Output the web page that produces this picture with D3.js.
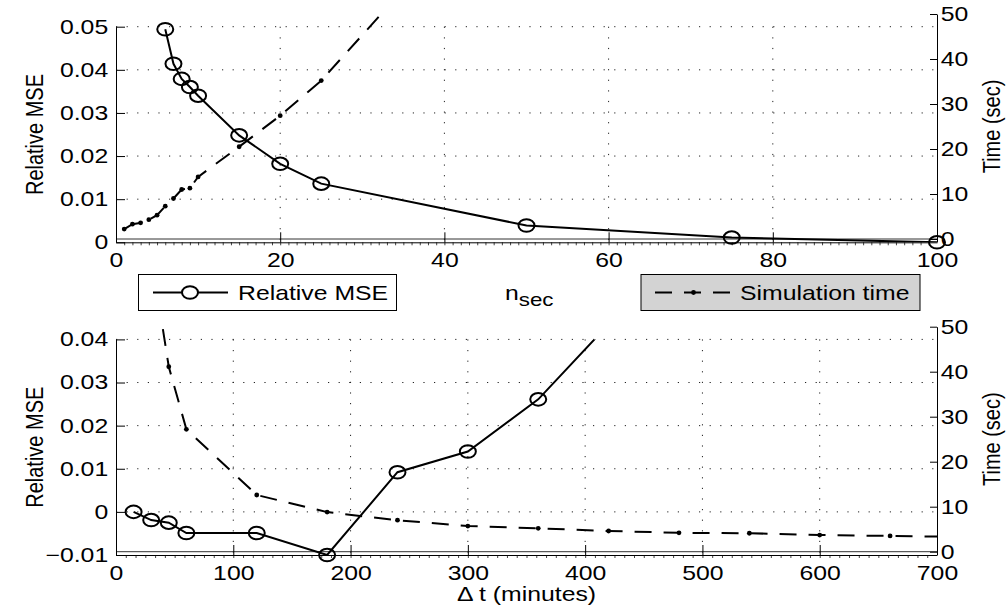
<!DOCTYPE html>
<html lang="en">
<head>
<meta charset="UTF-8">
<title>Relative MSE and simulation time</title>
<script src="https://d3js.org/d3.v7.min.js"></script>
<style>
  body { margin: 0; background: #fff; }
  text { font-family: "Liberation Sans", Arial, Helvetica, sans-serif; font-size: 20px; fill: #000; }
</style>
</head>
<body>
<svg id="chart" width="1007" height="615"></svg>
<script>
// ---- top panel: sweep over n_sec ----
var nsec      = [6, 7, 8, 9, 10, 15, 20, 25, 50, 75, 100];
var nsecMse   = [0.0494, 0.0414, 0.0379, 0.0360, 0.0340, 0.0248, 0.0182, 0.0136, 0.0039, 0.0011, 0.0000];
var nsecTimeX = [1, 2, 3, 4, 5, 6, 7, 8, 9, 10, 15, 20, 25, 50, 75, 100];
var nsecTime  = [2.2, 3.3, 3.6, 4.3, 5.3, 7.3, 9.0, 11.0, 11.3, 13.8, 20.5, 27.4, 35.2, 85.8, 150, 230];

// ---- bottom panel: sweep over delta t (minutes) ----
var dt      = [15, 30, 45, 60, 120, 180, 240, 300, 360, 420, 480];
var dtMse   = [0.0000, -0.0019, -0.0025, -0.0049, -0.0049, -0.0100, 0.0092, 0.0140, 0.0261, 0.0435, 0.0650];
var dtTimeX = [15, 30, 45, 60, 120, 180, 240, 300, 360, 420, 480, 540, 600, 660, 720];
var dtTime  = [120, 66, 41.1, 27.2, 12.6, 8.8, 7.0, 5.7, 5.2, 4.6, 4.2, 4.1, 3.7, 3.5, 3.3];

// tick labels
var topXTicks  = [0, 20, 40, 60, 80, 100];
var topMseTicks = [0, 0.01, 0.02, 0.03, 0.04, 0.05];
var botXTicks  = [0, 100, 200, 300, 400, 500, 600, 700];
var botMseTicks = [-0.01, 0, 0.01, 0.02, 0.03, 0.04];
var timeTicks  = [0, 10, 20, 30, 40, 50];

var svg = d3.select("#chart");
var X0 = 116, X1 = 937;
var SX = 1.24;         // text is drawn a bit wide, like the original
var dashes = "17,12";

function label(x, y, str, anchor, rotated) {
  var g = svg.append("g")
    .attr("transform", "translate(" + x + "," + y + ") scale(" + SX + ",1)" + (rotated ? " rotate(-90)" : ""));
  return g.append("text").attr("text-anchor", anchor).text(str);
}

function fmtMse(d) {
  if (d === 0) return "0";
  return (d < 0 ? "\u2212" : "") + Math.abs(d).toFixed(2);
}

function styleAxis(sel) {
  sel.attr("font-size", null).attr("font-family", null);
  sel.select(".domain").attr("stroke", "#000");
  sel.selectAll("text").attr("transform", "scale(" + SX + ",1)");
}

function panel(p, id) {
  var g = svg.append("g");
  var x = d3.scaleLinear().domain(p.xDomain).range([X0, X1]);
  var yL = d3.scaleLinear().domain(p.yDomain).range([p.lBot, p.lTop]);
  var yR = d3.scaleLinear().domain([0, 50]).range([p.rBot, p.rTop]);

  var defs = g.append("defs");
  defs.append("clipPath").attr("id", "cl" + id).append("rect")
    .attr("x", X0).attr("y", p.lTop).attr("width", X1 - X0).attr("height", p.lBot - p.lTop);
  defs.append("clipPath").attr("id", "cr" + id).append("rect")
    .attr("x", X0).attr("y", p.rTop).attr("width", X1 - X0).attr("height", p.rBot - p.rTop);

  // dotted grid
  g.append("g").selectAll("line").data(p.xTicks.slice(1, -1)).join("line")
    .attr("x1", function(d) { return x(d); }).attr("x2", function(d) { return x(d); })
    .attr("y1", p.lTop).attr("y2", p.lBot)
    .attr("stroke", "#222").attr("stroke-dasharray", "1.2,9.4");
  g.append("g").selectAll("line").data(p.yTicks.slice(1)).join("line")
    .attr("x1", X0).attr("x2", X1)
    .attr("y1", function(d) { return yL(d); }).attr("y2", function(d) { return yL(d); })
    .attr("stroke", "#222").attr("stroke-dasharray", "1.2,9.4");

  // right axes bottom edge (sits a little above the left one)
  g.append("line").attr("x1", X0).attr("x2", X1).attr("y1", p.rBot).attr("y2", p.rBot)
    .attr("stroke", "#333");

  // minor ticks
  g.append("g").attr("transform", "translate(0," + p.lBot + ")")
    .call(d3.axisBottom(x).tickValues(p.minor).tickSize(3).tickSizeOuter(0).tickFormat(""))
    .call(function(s) { s.select(".domain").remove(); s.selectAll("line").attr("stroke", "#444"); });

  // axes
  g.append("g").attr("transform", "translate(0," + p.lBot + ")")
    .call(d3.axisBottom(x).tickValues(p.xTicks).tickSize(-10).tickSizeOuter(0).tickPadding(11).tickFormat(d3.format("d")))
    .call(styleAxis);
  g.append("g").attr("transform", "translate(" + X0 + ",0)")
    .call(d3.axisLeft(yL).tickValues(p.yTicks).tickSize(-9).tickSizeOuter(0).tickPadding(6.3).tickFormat(fmtMse))
    .call(styleAxis);
  g.append("g").attr("transform", "translate(" + X1 + ",0)")
    .call(d3.axisRight(yR).tickValues(timeTicks).tickSize(-7).tickSizeOuter(0).tickPadding(3).tickFormat(d3.format("d")))
    .call(styleAxis);

  // simulation time: dashed line with dot markers
  var tPts = p.tX.map(function(v, i) { return [v, p.t[i]]; });
  g.append("path").datum(tPts)
    .attr("clip-path", "url(#cr" + id + ")")
    .attr("fill", "none").attr("stroke", "#000").attr("stroke-width", 2)
    .attr("stroke-dasharray", dashes)
    .attr("d", d3.line().x(function(d) { return x(d[0]); }).y(function(d) { return yR(d[1]); }));
  g.append("g").selectAll("circle")
    .data(tPts.filter(function(d) { return d[1] <= 50 && d[0] <= p.xDomain[1]; }))
    .join("circle")
    .attr("cx", function(d) { return x(d[0]); }).attr("cy", function(d) { return yR(d[1]); })
    .attr("r", 2.4).attr("fill", "#000");

  // relative MSE: solid line with open circles
  var mPts = p.mX.map(function(v, i) { return [v, p.m[i]]; });
  g.append("path").datum(mPts)
    .attr("clip-path", "url(#cl" + id + ")")
    .attr("fill", "none").attr("stroke", "#000").attr("stroke-width", 2)
    .attr("d", d3.line().x(function(d) { return x(d[0]); }).y(function(d) { return yL(d[1]); }));
  g.append("g").selectAll("ellipse")
    .data(mPts.filter(function(d) { return d[1] <= p.yDomain[1] && d[1] >= p.yDomain[0]; }))
    .join("ellipse")
    .attr("cx", function(d) { return x(d[0]); }).attr("cy", function(d) { return yL(d[1]); })
    .attr("rx", 8).attr("ry", 6.3)
    .attr("fill", "none").attr("stroke", "#000").attr("stroke-width", 2);

  // axis titles
  label(43, (p.lTop + p.lBot) / 2, "Relative MSE", "middle", true);
  label(1000, (p.rTop + p.rBot) / 2, "Time (sec)", "middle", true);
}

panel({
  xDomain: [0, 100], yDomain: [0, 0.05],
  lTop: 26.7, lBot: 242.3, rTop: 14, rBot: 239,
  xTicks: topXTicks, yTicks: topMseTicks, minor: d3.range(1, 100, 1),
  mX: nsec, m: nsecMse, tX: nsecTimeX, t: nsecTime
}, 0);

panel({
  xDomain: [0, 700], yDomain: [-0.01, 0.04],
  lTop: 339.4, lBot: 555, rTop: 326.7, rBot: 551.7,
  xTicks: botXTicks, yTicks: botMseTicks, minor: d3.range(1, 84).map(function(i) { return i * 700 / 84; }),
  mX: dt, m: dtMse, tX: dtTimeX, t: dtTime
}, 1);

// x axis titles
var nl = label(505, 300, "n", "start", false);
nl.append("tspan").attr("dy", 6).attr("font-size", 18).text("sec");
label(526.5, 601, "\u0394 t (minutes)", "middle", false);

// legends
var legL = svg.append("g");
legL.append("rect").attr("x", 138.5).attr("y", 274.5).attr("width", 258).attr("height", 36)
  .attr("fill", "#fff").attr("stroke", "#000");
legL.append("line").attr("x1", 153).attr("x2", 228).attr("y1", 292.5).attr("y2", 292.5)
  .attr("stroke", "#000").attr("stroke-width", 2);
legL.append("ellipse").attr("cx", 190).attr("cy", 292.5).attr("rx", 8).attr("ry", 6.3)
  .attr("fill", "#fff").attr("stroke", "#000").attr("stroke-width", 2);
label(238, 300, "Relative MSE", "start", false);

var legR = svg.append("g");
legR.append("rect").attr("x", 641).attr("y", 274.5).attr("width", 279).attr("height", 36)
  .attr("fill", "#d3d3d3").attr("stroke", "#000");
legR.append("line").attr("x1", 655).attr("x2", 732).attr("y1", 292.5).attr("y2", 292.5)
  .attr("stroke", "#000").attr("stroke-width", 2).attr("stroke-dasharray", dashes);
legR.append("circle").attr("cx", 693.5).attr("cy", 292.5).attr("r", 2.4).attr("fill", "#000");
label(740, 300, "Simulation time", "start", false);
</script>
</body>
</html>
